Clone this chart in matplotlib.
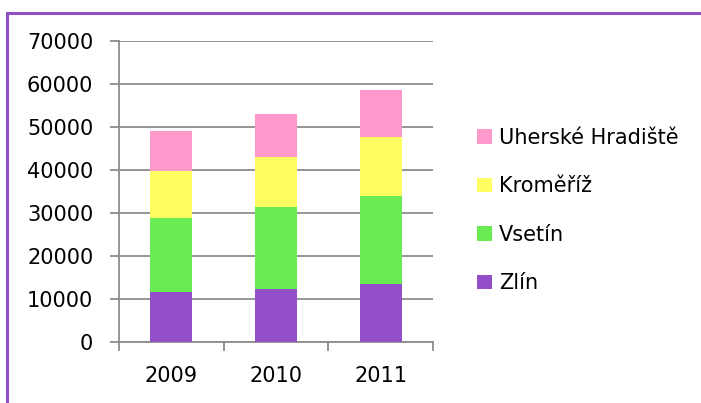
import numpy as np
import matplotlib.pyplot as plt
from matplotlib.patches import Rectangle

years = ['2009', '2010', '2011']
zlin = [11700, 12300, 13400]
vsetin = [17100, 19100, 20500]
kromeriz = [11000, 11700, 13800]
uh = [9300, 10000, 10900]

series = [
    ('Zlín', zlin, '#924fc8'),
    ('Vsetín', vsetin, '#6aeb52'),
    ('Kroměříž', kromeriz, '#ffff62'),
    ('Uherské Hradiště', uh, '#ff99cc'),
]

plt.rcParams['font.family'] = 'DejaVu Sans'
grey = '#8c8c8c'
fs = 15

fig = plt.figure(figsize=(7.01, 4.03), dpi=100)
ax = fig.add_axes([119/701, 61/403, 314/701, 301/403])

x = np.arange(len(years))
bottom = np.zeros(len(years))
handles = []
for name, vals, col in series:
    b = ax.bar(x, vals, width=0.4, bottom=bottom, color=col, label=name, zorder=3)
    handles.append(b)
    bottom += np.array(vals)

ax.set_xlim(-0.5, len(years) - 0.5)
ax.set_ylim(0, 70000)
ax.set_yticks(np.arange(0, 70001, 10000))
ax.set_yticklabels([str(v) for v in range(0, 70001, 10000)])
ax.yaxis.grid(True, color=grey, linewidth=1.3, zorder=0)
ax.set_xticks(x)
ax.set_xticklabels(years)
ax.set_xticks(np.arange(-0.5, len(years)), minor=True)

for s in ['top', 'right']:
    ax.spines[s].set_visible(False)
for s in ['left', 'bottom']:
    ax.spines[s].set_color(grey)
    ax.spines[s].set_linewidth(1.3)

ax.tick_params(axis='y', length=6.5, width=1.3, color=grey, pad=12, labelsize=fs)
ax.tick_params(axis='x', which='major', length=0, pad=17.5, labelsize=fs)
ax.tick_params(axis='x', which='minor', length=6.5, width=1.3, color=grey)

leg = ax.legend(handles[::-1], [s[0] for s in series][::-1],
                loc='center left', bbox_to_anchor=(477/701, 1 - 210.5/403),
                bbox_transform=fig.transFigure, frameon=False, fontsize=fs,
                handlelength=0.72, handleheight=0.72, handletextpad=0.34,
                labelspacing=1.37, borderaxespad=0, borderpad=0)

# purple frame (partly outside the image)
fig.add_artist(Rectangle((7/701, -0.2), 1.2, 0.2 + 1 - 12.5/403,
                         transform=fig.transFigure, fill=False,
                         edgecolor='#9050c8', linewidth=2.2))

fig.savefig('out.png', dpi=100)
